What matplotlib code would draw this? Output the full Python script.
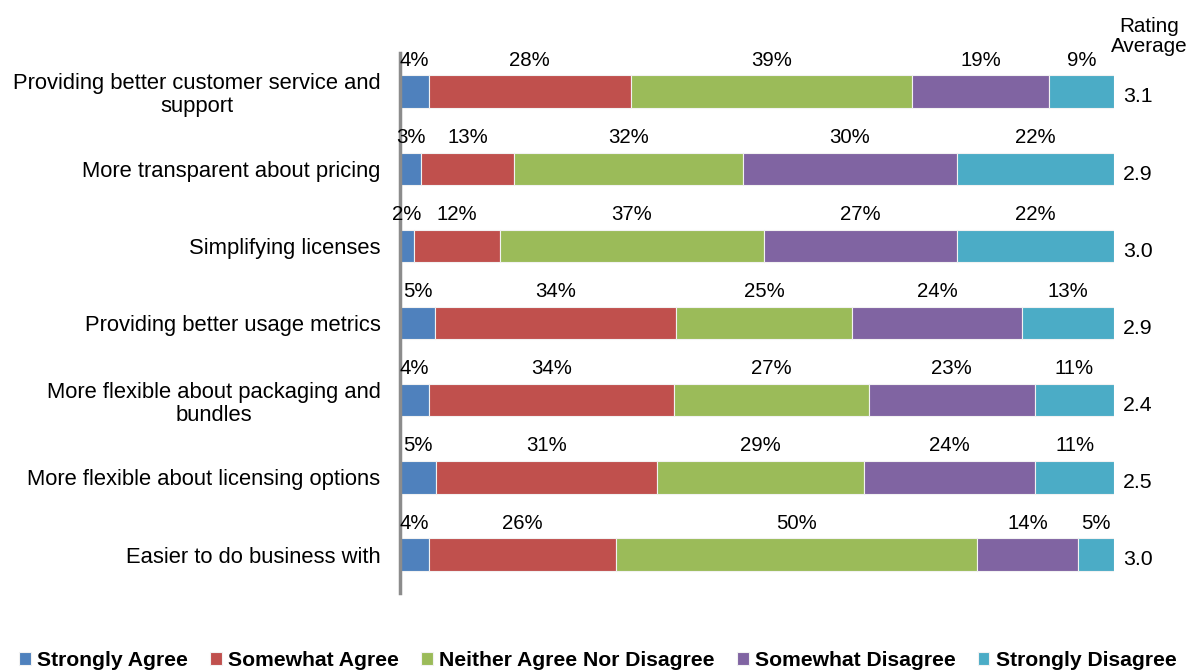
import matplotlib.pyplot as plt
import numpy as np

plt.rcParams["font.family"] = ["Liberation Sans", "DejaVu Sans"]

CATEGORIES = [
    "Providing better customer service and\nsupport",
    "More transparent about pricing",
    "Simplifying licenses",
    "Providing better usage metrics",
    "More flexible about packaging and\nbundles",
    "More flexible about licensing options",
    "Easier to do business with",
]

RESPONSES = [
    "Strongly Agree",
    "Somewhat Agree",
    "Neither Agree Nor Disagree",
    "Somewhat Disagree",
    "Strongly Disagree",
]

COLORS = ["#4F81BD", "#C0504D", "#9BBB59", "#8064A2", "#4BACC6"]

# percent of respondents per answer, one row per category
STRONGLY_AGREE = [4, 3, 2, 5, 4, 5, 4]
SOMEWHAT_AGREE = [28, 13, 12, 34, 34, 31, 26]
NEITHER = [39, 32, 37, 25, 27, 29, 50]
SOMEWHAT_DISAGREE = [19, 30, 27, 24, 23, 24, 14]
STRONGLY_DISAGREE = [9, 22, 22, 13, 11, 11, 5]

RATING_AVERAGE = [3.1, 2.9, 3.0, 2.9, 2.4, 2.5, 3.0]

series = np.array([STRONGLY_AGREE, SOMEWHAT_AGREE, NEITHER,
                   SOMEWHAT_DISAGREE, STRONGLY_DISAGREE], dtype=float)
# rounded percentages don't always add to 100, so each bar is scaled to full width
shares = series / series.sum(axis=0) * 100

fig = plt.figure(figsize=(11.96, 6.71), dpi=100)
ax = fig.add_axes([0.3344, 0.116, 0.5970, 0.805])

y = np.arange(len(CATEGORIES))
left = np.zeros(len(CATEGORIES))
for i, name in enumerate(RESPONSES):
    ax.barh(y, shares[i], left=left, height=0.42, color=COLORS[i],
            edgecolor="#F2F2F2", linewidth=0.8, label=name)
    for row in range(len(CATEGORIES)):
        ax.text(left[row] + shares[i][row] / 2, y[row] - 0.285,
                f"{series[i][row]:.0f}%", ha="center", va="bottom", fontsize=14.7)
    left += shares[i]

for row, value in enumerate(RATING_AVERAGE):
    ax.text(101.3, y[row] + 0.07, f"{value:.1f}", ha="left", va="center",
            fontsize=15.3)

ax.text(104.9, -0.46, "Rating\nAverage", ha="center", va="bottom", fontsize=14.9,
        linespacing=1.05)

ax.set_xlim(0, 100)
ax.set_ylim(len(CATEGORIES) - 0.5, -0.5)
ax.set_yticks(y)
ax.set_yticklabels(CATEGORIES, fontsize=15.8, ha="right", multialignment="center",
                   linespacing=1.12)
ax.tick_params(axis="y", length=0, pad=14)
ax.set_xticks([])
for side in ["top", "right", "bottom"]:
    ax.spines[side].set_visible(False)
ax.spines["left"].set_color("#8C8C8C")
ax.spines["left"].set_linewidth(2.5)

fig.legend(loc="center", bbox_to_anchor=(0.5, 0.016), ncol=5, frameon=False,
           prop={"weight": "bold", "size": 15.2}, handlelength=0.55,
           handleheight=0.55, handletextpad=0.3, columnspacing=1.05)

fig.savefig("out.png", dpi=100)
